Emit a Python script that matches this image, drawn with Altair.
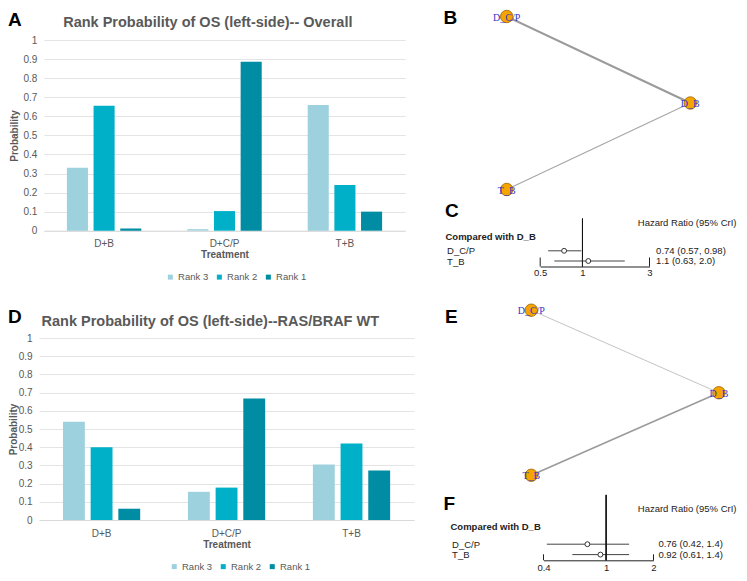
import altair as alt
import pandas as pd

# ---------------- data ----------------
treatments = ["D+B", "D+C/P", "T+B"]
ranks = ["Rank 3", "Rank 2", "Rank 1"]

overall_rank3 = [0.33, 0.008, 0.66]
overall_rank2 = [0.655, 0.103, 0.24]
overall_rank1 = [0.012, 0.887, 0.10]

wt_rank3 = [0.54, 0.155, 0.305]
wt_rank2 = [0.40, 0.178, 0.42]
wt_rank1 = [0.062, 0.667, 0.272]

prob_ticks = [i / 10 for i in range(11)]

nodes = ["D_C/P", "D_B", "T_B"]
node_x = [0, 1, 0]
node_y = [1, 0.5, 0]
edge_from = ["D_C/P", "T_B"]
edge_to = ["D_B", "D_B"]

comparisons = ["D_C/P", "T_B"]
hr_overall = [0.74, 1.1]
lo_overall = [0.57, 0.63]
hi_overall = [0.98, 2.0]
hr_text_overall = ["0.74 (0.57, 0.98)", "1.1 (0.63, 2.0)"]
hr_ticks_overall = [0.5, 1, 3]

hr_wt = [0.76, 0.92]
lo_wt = [0.42, 0.61]
hi_wt = [1.4, 1.4]
hr_text_wt = ["0.76 (0.42, 1.4)", "0.92 (0.61, 1.4)"]
hr_ticks_wt = [0.4, 1, 2]

# ---------------- styling ----------------
W, H = 731, 565
FONT = "Liberation Sans"
GREY = "#595959"
DARK = "#222222"
rank_colors = ["#9DD1DE", "#00B0C8", "#008CA2"]


def rank_df(r3, r2, r1):
    rows = []
    for name, vals in zip(ranks, [r3, r2, r1]):
        for t, v in zip(treatments, vals):
            rows.append({"Treatment": t, "Rank": name, "Probability": v})
    return pd.DataFrame(rows)


def bar_panel(df, xr, yr, x_label_pad, treat_title_y, prob_title_x, leg_x, leg_y):
    x_axis = alt.Axis(
        orient="bottom", offset=yr[0] - H, title="Treatment", labelAngle=0,
        labelFont=FONT, labelFontSize=10, labelColor=GREY, labelPadding=x_label_pad,
        labelBaseline="top", ticks=False, tickSize=0, domain=True,
        domainColor="#D9D9D9", domainWidth=1, grid=False,
        titleFont=FONT, titleFontSize=10, titleFontWeight="bold", titleColor=GREY,
        titleY=treat_title_y, titleBaseline="middle",
    )
    y_axis = alt.Axis(
        orient="left", offset=-xr[0], values=prob_ticks, format="~g",
        title="Probability", labelFont=FONT, labelFontSize=10, labelColor=GREY,
        labelPadding=7, ticks=False, tickSize=0, domain=False, grid=True,
        gridColor="#E4E4E4", gridWidth=1,
        titleFont=FONT, titleFontSize=10, titleFontWeight="bold", titleColor=GREY,
        titleX=prob_title_x, titleY=(yr[0] + yr[1]) / 2, titleBaseline="middle",
        titleAlign="center",
    )
    legend = alt.Legend(
        orient="none", legendX=leg_x, legendY=leg_y, direction="horizontal",
        title=None, symbolType="square", symbolSize=25, symbolStrokeWidth=0,
        labelFont=FONT, labelFontSize=9.5, labelColor=GREY, labelOffset=3,
        columnPadding=6, padding=0,
    )
    return alt.Chart(df).mark_bar().encode(
        x=alt.X("Treatment:N", sort=treatments,
                scale=alt.Scale(range=xr, paddingInner=0.382, paddingOuter=0.191),
                axis=x_axis),
        xOffset=alt.XOffset("Rank:N", sort=ranks,
                            scale=alt.Scale(domain=ranks, paddingInner=0.21, paddingOuter=0)),
        y=alt.Y("Probability:Q", scale=alt.Scale(domain=[0, 1], range=yr, nice=False),
                axis=y_axis),
        color=alt.Color("Rank:N", scale=alt.Scale(domain=ranks, range=rank_colors),
                        legend=legend),
    )


def network_panel(xr, yr, edge_colors, edge_widths):
    pos = dict(zip(nodes, zip(node_x, node_y)))
    edf = pd.DataFrame({
        "x1": [pos[a][0] for a in edge_from], "y1": [pos[a][1] for a in edge_from],
        "x2": [pos[b][0] for b in edge_to], "y2": [pos[b][1] for b in edge_to],
        "c": edge_colors, "w": edge_widths,
    })
    ndf = pd.DataFrame({"node": nodes, "x": node_x, "y": node_y})
    xs = alt.Scale(domain=[0, 1], range=xr, nice=False, zero=False)
    ys = alt.Scale(domain=[0, 1], range=yr, nice=False, zero=False)
    edges = alt.Chart(edf).mark_rule().encode(
        x=alt.X("x1:Q", scale=xs, axis=None), y=alt.Y("y1:Q", scale=ys, axis=None),
        x2="x2:Q", y2="y2:Q",
        color=alt.Color("c:N", scale=None), strokeWidth=alt.StrokeWidth("w:Q", scale=None),
    )
    circles = alt.Chart(ndf).mark_circle(
        size=155, color="#F6A400", stroke="#9A6400", strokeWidth=0.8, opacity=1
    ).encode(x=alt.X("x:Q", scale=xs, axis=None), y=alt.Y("y:Q", scale=ys, axis=None))
    labels = alt.Chart(ndf).mark_text(
        font="Liberation Serif", fontSize=10, color="#3434C6", baseline="middle", dy=1
    ).encode(x=alt.X("x:Q", scale=xs, axis=None), y=alt.Y("y:Q", scale=ys, axis=None),
             text="node:N")
    return [edges, circles, labels]


def forest_panel(hr, lo, hi, texts, ticks, xr, yr, base_y, top_y, tick_len,
                 tick_label_pad, header_x, header_y, label_x, value_x, title_right, title_y):
    df = pd.DataFrame({"cmp": comparisons, "hr": hr, "lo": lo, "hi": hi, "txt": texts})
    tdf = pd.DataFrame({"tick": ticks})

    def xs():
        return alt.Scale(type="log", domain=[ticks[0], ticks[-1]], range=xr, nice=False)

    def ys():
        return alt.Scale(type="point", domain=comparisons, range=yr, padding=0)

    x_axis = alt.Axis(
        orient="bottom", offset=base_y - H, values=ticks, format="~g", ticks=False,
        tickSize=0, domain=True, domainColor=DARK, domainWidth=1, grid=False,
        labelFont=FONT, labelFontSize=9.5, labelColor=DARK, labelPadding=tick_label_pad,
        labelBaseline="top", labelFlush=False, labelOverlap=False,
        title="Hazard Ratio (95% CrI)", titleFont=FONT, titleFontSize=9.5,
        titleFontWeight="normal", titleColor=DARK, titleAlign="right",
        titleBaseline="middle", titleX=title_right, titleY=title_y - base_y,
    )
    y_axis = alt.Axis(
        orient="left", offset=-label_x, ticks=False, tickSize=0, domain=False, grid=False,
        labelAlign="left", labelPadding=0, labelFont=FONT, labelFontSize=9.5,
        labelColor=DARK, labelBaseline="middle",
        title="Compared with D_B", titleAngle=0, titleAlign="left", titleBaseline="middle",
        titleX=header_x - label_x, titleY=header_y, titleFont=FONT, titleFontSize=9.5,
        titleFontWeight="bold", titleColor=DARK,
    )
    ci = alt.Chart(df).mark_rule(color="#444444", strokeWidth=1).encode(
        x=alt.X("lo:Q", scale=xs(), axis=x_axis), x2="hi:Q",
        y=alt.Y("cmp:N", scale=ys(), sort=comparisons, axis=y_axis),
    )
    ref = alt.Chart(tdf).mark_rule(color="#111111", strokeWidth=1).encode(
        x=alt.XDatum(1, type="quantitative", scale=xs(), axis=None),
        y=alt.value(top_y), y2=alt.value(base_y),
    )
    tick_marks = alt.Chart(tdf).mark_rule(color=DARK, strokeWidth=1).encode(
        x=alt.X("tick:Q", scale=xs(), axis=None),
        y=alt.value(base_y - tick_len), y2=alt.value(base_y),
    )
    pts = alt.Chart(df).mark_point(
        shape="circle", filled=True, fill="white", stroke="#333333", strokeWidth=1,
        size=24, opacity=1
    ).encode(x=alt.X("hr:Q", scale=xs(), axis=None),
             y=alt.Y("cmp:N", scale=ys(), sort=comparisons, axis=None))
    vals = alt.Chart(df).mark_text(
        align="left", baseline="middle", font=FONT, fontSize=9.5, color=DARK
    ).encode(x=alt.value(value_x),
             y=alt.Y("cmp:N", scale=ys(), sort=comparisons, axis=None), text="txt:N")
    return [ci, ref, tick_marks, pts, vals]


def note(text, x, y, size, color, weight="bold"):
    return alt.Chart(alt.Data(values=[{}])).mark_text(
        text=text, font=FONT, fontSize=size, fontWeight=weight, color=color,
        align="left", baseline="alphabetic"
    ).encode(x=alt.value(x), y=alt.value(y))


barA = bar_panel(rank_df(overall_rank3, overall_rank2, overall_rank1),
                 xr=[35.9, 397.1], yr=[222.7, 32.1], x_label_pad=7.5,
                 treat_title_y=23.5, prob_title_x=-29, leg_x=157.6, leg_y=264)
barD = bar_panel(rank_df(wt_rank3, wt_rank2, wt_rank1),
                 xr=[31.1, 406.0], yr=[512.0, 330.0], x_label_pad=8.0,
                 treat_title_y=24, prob_title_x=-26, leg_x=161.5, leg_y=553.5)

netB = network_panel([498.7, 682.3], [181.5, 8.5], ["#9A9A9A", "#A8A8A8"], [2.0, 1.3])
netE = network_panel([523.3, 710.9], [467.3, 302.2], ["#C4C4C4", "#9A9A9A"], [1.0, 1.5])

forestC = forest_panel(hr_overall, lo_overall, hi_overall, hr_text_overall, hr_ticks_overall,
                       xr=[532.2, 641.5], yr=[242.8, 253.0], base_y=258.5, top_y=210.6,
                       tick_len=9, tick_label_pad=1, header_x=437, header_y=228,
                       label_x=438.6, value_x=648.1, title_right=728, title_y=214.5)
forestF = forest_panel(hr_wt, lo_wt, hi_wt, hr_text_wt, hr_ticks_wt,
                       xr=[535.5, 645.5], yr=[536.2, 546.6], base_y=552.3, top_y=486.9,
                       tick_len=6, tick_label_pad=1.7, header_x=442, header_y=518,
                       label_x=443.6, value_x=650.4, title_right=728, title_y=500.6)

notes = [
    note("Rank Probability of OS (left-side)-- Overall", 55.2, 19.3, 14.5, GREY),
    note("Rank Probability of OS (left-side)--RAS/BRAF WT", 33.5, 317.9, 14.5, GREY),
    note("A", 0, 17.7, 19, "#000000"),
    note("B", 435.4, 16, 19, "#000000"),
    note("C", 437, 209, 19, "#000000"),
    note("D", 0, 314.6, 19, "#000000"),
    note("E", 437, 315.2, 19, "#000000"),
    note("F", 435.4, 501.6, 19, "#000000"),
]

chart = alt.layer(barA, barD, *netB, *forestC, *netE, *forestF, *notes).resolve_scale(
    x="independent", y="independent", color="independent", xOffset="independent"
).properties(
    width=W, height=H, padding=0, autosize=alt.AutoSizeParams(type="none")
).configure_view(stroke=None)

chart.save("out.html", embed_options={"renderer": "svg", "actions": False})
